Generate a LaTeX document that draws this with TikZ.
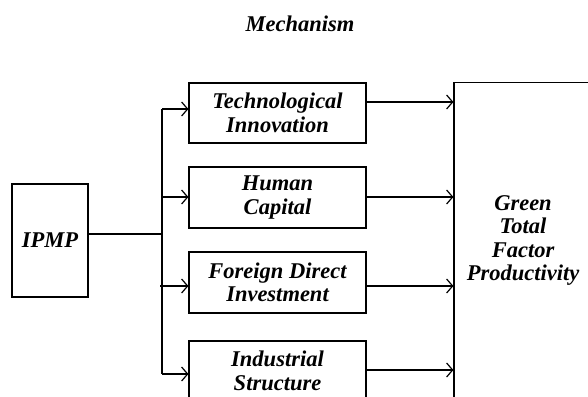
\documentclass[tikz,border=0pt]{standalone}
\usepackage{fontspec}
\setmainfont{Liberation Serif}
\usetikzlibrary{arrows.meta}
\begin{document}
\begin{tikzpicture}[x=1pt,y=-1pt,
  lbl/.style={font=\fontsize{22.5}{23.5}\selectfont\bfseries\itshape, align=center, inner sep=0pt},
  box/.style={lbl, draw, line width=1.2pt, rectangle},
  conn/.style={line width=1.2pt},
  arr/.style={conn, -{Straight Barb[length=6pt,width=14pt,line width=1.2pt]}}]
\path[use as bounding box] (0,0) rectangle (588,396);
\clip (0,0) rectangle (588,396);
\node[lbl] (title) at (300,24) {Mechanism};
\node[box, minimum width=76pt, minimum height=113pt] (ipmp) at (50,240.5) {IPMP};
\node[box, minimum width=177pt, minimum height=60pt] (t1) at (277.5,113) {Technological\\Innovation};
\node[box, minimum width=177pt, minimum height=61pt] (t2) at (277.5,197.5) {Human\\Capital};
\node[box, minimum width=177pt, minimum height=61pt] (t3) at (277.5,282.5) {Foreign Direct\\Investment};
\node[box, minimum width=177pt, minimum height=60pt] (t4) at (277.5,371) {Industrial\\Structure};
\node[box, minimum width=138pt, minimum height=316pt] (g) at (523,240.5) {Green\\Total\\Factor\\Productivity};
\coordinate (j) at (162,234);
\coordinate (jt) at (162,109);
\coordinate (jb) at (162,374);
\draw[conn] (ipmp.east |- j) -- (j);
\draw[conn] (jt) -- (jb);
\draw[arr] (jt) -- (jt -| t1.west);
\draw[arr] (162,197) -- (t2.west |- 0,197);
\draw[arr] (160,286) -- (t3.west |- 0,286);
\draw[arr] (jb) -- (jb -| t4.west);
\draw[arr] (t1.east |- 0,102) -- (g.west |- 0,102);
\draw[arr] (t2.east |- 0,197) -- (g.west |- 0,197);
\draw[arr] (t3.east |- 0,286) -- (g.west |- 0,286);
\draw[arr] (t4.east |- 0,370) -- (g.west |- 0,370);
\end{tikzpicture}
\end{document}
